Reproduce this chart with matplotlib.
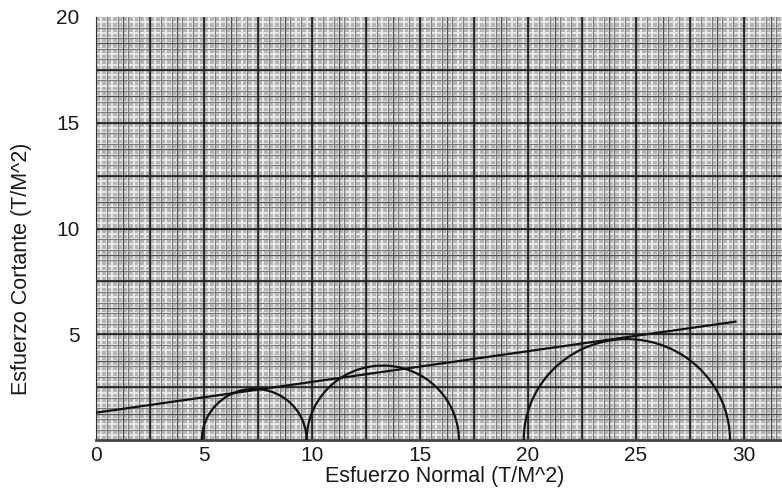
import numpy as np
import matplotlib
matplotlib.use('Agg')
import matplotlib.pyplot as plt
from matplotlib.ticker import MultipleLocator

# Mohr circles (T/M^2)
sigma3 = [4.9, 9.75, 19.8]
sigma1 = [9.75, 16.8, 29.35]

# failure envelope (straight line)
env_x = [0.0, 29.6]
env_y = [1.3, 5.6]

xticks = [0, 5, 10, 15, 20, 25, 30]
yticks = [5, 10, 15, 20]

plt.rcParams['font.family'] = ['Liberation Sans', 'DejaVu Sans']

fig = plt.figure(figsize=(7.82, 4.94), dpi=100)
ax = fig.add_axes([0.1228, 0.109, 0.8772, 0.8566])
ax.set_facecolor('#b4b4b4')

ax.set_xlim(0, 31.76)
ax.set_ylim(0, 20)

# graph paper grid
ax.xaxis.set_minor_locator(MultipleLocator(0.25))
ax.yaxis.set_minor_locator(MultipleLocator(0.25))
ax.grid(which='minor', color='#ececec', lw=1.3)
for v in np.arange(0.5, 31.76, 0.5):
    ax.axvline(v, color='#7a7a7a', lw=0.8, zorder=1)
for v in np.arange(0.5, 20, 0.5):
    ax.axhline(v, color='#7a7a7a', lw=0.8, zorder=1)
for v in np.arange(1.25, 31.76, 1.25):
    ax.axvline(v, color='#505050', lw=0.9, zorder=1)
for v in np.arange(1.25, 20, 1.25):
    ax.axhline(v, color='#505050', lw=0.9, zorder=1)
for v in np.arange(2.5, 31.76, 2.5):
    ax.axvline(v, color='#1e1e1e', lw=1.2, zorder=1)
for v in np.arange(2.5, 20, 2.5):
    ax.axhline(v, color='#1e1e1e', lw=1.2, zorder=1)
ax.set_axisbelow(True)

# circles
t = np.linspace(0, np.pi, 200)
for s3, s1 in zip(sigma3, sigma1):
    c = (s1 + s3) / 2
    r = (s1 - s3) / 2
    ax.plot(c + r * np.cos(t), r * np.sin(t), color='#111111', lw=1.6, zorder=3)

ax.plot(env_x, env_y, color='#111111', lw=1.6, zorder=3)

ax.set_xticks(xticks)
ax.set_yticks(yticks)
ax.tick_params(which='both', length=0, labelsize=15, colors='#1a1a1a')
ax.tick_params(axis='x', pad=4)
ax.tick_params(axis='y', pad=12)

for s in ['right', 'top']:
    ax.spines[s].set_visible(False)
ax.spines['left'].set_color('#333333')
ax.spines['bottom'].set_color('#444444')
ax.spines['bottom'].set_linewidth(2)

ax.set_xlabel('Esfuerzo Normal (T/M^2)', fontsize=15.5, color='#1a1a1a')
ax.set_ylabel('Esfuerzo Cortante (T/M^2)', fontsize=15.5, color='#1a1a1a')
ax.xaxis.set_label_coords(0.508, -0.087)
ax.xaxis.label.set_va('center')
ax.yaxis.set_label_coords(-0.108, 0.404)
ax.yaxis.label.set_va('center')

fig.savefig('out.png', dpi=100)
